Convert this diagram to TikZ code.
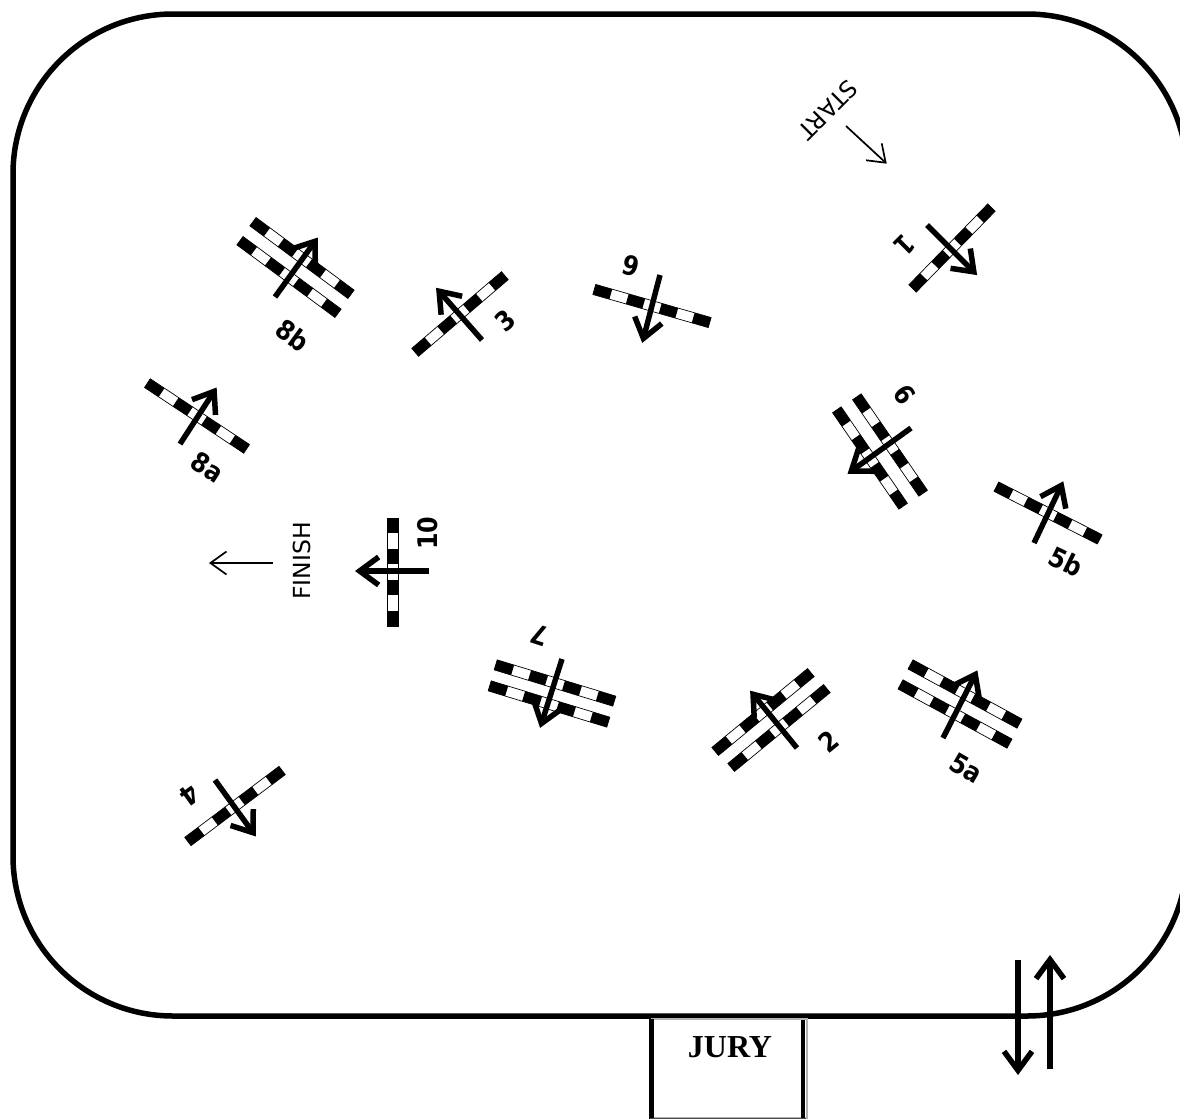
\documentclass[tikz,border=0pt]{standalone}
\usepackage{fontspec}
\setmainfont{DejaVu Sans}
\newfontfamily\jumpfont[FakeStretch=0.88]{DejaVu Sans}
\newfontfamily\juryfont{Liberation Serif}
\usetikzlibrary{arrows.meta}

\tikzset{
  jumparrow/.style = {line width=5.5pt, shorten >=-3pt, -{Straight Barb[length=19pt, width=28pt]}},
  thinarrow/.style = {line width=1.7pt, shorten >=-1pt, -{Straight Barb[length=16pt, width=23pt]}},
  ringline/.style = {line width=5.5pt, rounded corners=160pt},
  jumplabel/.style = {font=\jumpfont\bfseries\fontsize{27}{27}\selectfont, inner sep=0pt},
  textlabel/.style = {font=\fontsize{23.5}{24}\selectfont, inner sep=0pt}
}

% one pole: centre x, centre y, angle, length
\newcommand{\polebar}[4]{
  \begin{scope}[shift={(#1,#2)}, rotate=#3]
    \draw[fill=white, line width=0.7pt] ({-#4/2},-5.2) rectangle ({#4/2},5.2);
    \foreach \s in {0,2,4,6}{
      \fill[black] ({-#4/2+\s*#4/7},-5.2) rectangle ({-#4/2+(\s+1)*#4/7},5.2);
    }
  \end{scope}
}

\begin{document}
\begin{tikzpicture}[x=1pt, y=-1pt]

    \clip (0,0) rectangle (1180,1119);

    % Draw Ring
    \draw[ringline] (13,14) rectangle (1187,1016);

    % Draw Jury Box
    \draw[gray!60, line width=2pt, fill=white] (652,1018.5) rectangle (806.5,1118);
    \draw[line width=5pt] (651.5,1019) -- (651.5,1119);
    \draw[line width=3.5pt] (803,1020) -- (803,1119);
    \draw[black!70, line width=1pt] (650,1118) -- (806,1118);
    \node[font=\juryfont\bfseries\fontsize{32}{32}\selectfont, inner sep=0pt] (jury) at (730,1047) {JURY};

    % Draw Poles
    \foreach \px/\py/\pang/\plen in {
      952/248/45.7/113,    % 1
      763/712/39.5/124, 779/728/39.5/124,   % 2
      460/314/40.5/118,    % 3
      235/806/37/118,      % 4
      965/694/-28.5/124, 955/714/-28.5/124, % 5a
      1048/513/-27/116,    % 5b
      652/306/-16/120,     % 6
      555/683/-17/124, 549/704/-17/124,     % 7
      197/416/-33.5/119,   % 8a
      302/258/-36.5/122, 289/277/-36.5/122, % 8b
      890/445/-55.5/117, 870/458/-55.5/117, % 9
      393/572/90/108}{     % 10
      \polebar{\px}{\py}{\pang}{\plen}
    }

    % Draw Jump Arrows
    \foreach \xa/\ya/\xb/\yb in {
      927/225/975/273, 797/748/752/693, 482/340/438/290, 215/780/254/834,
      943/738/976/673, 1034/543/1062/484, 660/275/643/340, 562/659/541/725,
      180/444/215/390, 275/297/316/240, 911/428/850/472, 429/571/358/571,
      1018/960/1018/1072, 1050/1069/1050/958}{
      \draw[jumparrow] (\xa,\ya) -- (\xb,\yb);
    }

    % Draw Jump Numbers
    \foreach \lx/\ly/\lrot/\ltxt in {
      905/245/-135/1, 829/742/39/2, 505/321/41/3, 190/795/-144/4,
      966/768/-30/5a, 1066/562/-26/5b, 631/266/165/6, 540/635/162/7,
      208/467/-33/8a, 293/335/-36/8b, 905/395/126/9, 428/533/90/10}{
      \node[jumplabel, rotate=\lrot] (jump\ltxt) at (\lx,\ly) {\ltxt};
    }

    % Draw Start and Finish
    \node[textlabel, rotate=-135] (start) at (828,110) {START};
    \draw[thinarrow] (846,126) -- (886,163);
    \node[textlabel, rotate=90] (finish) at (302,561) {FINISH};
    \draw[thinarrow] (273,563) -- (210,563);

\end{tikzpicture}
\end{document}
